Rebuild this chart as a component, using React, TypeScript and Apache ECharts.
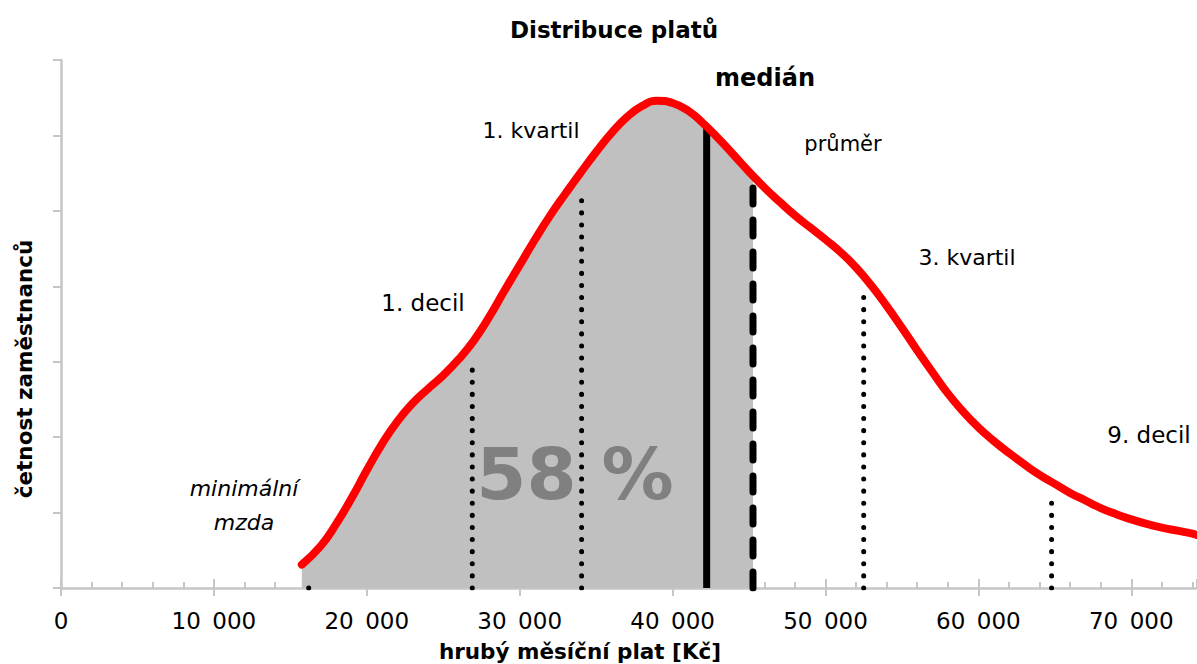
import React, { useEffect, useRef } from "react";
import * as echarts from "echarts";

// ---- data ----
const salary = [15750, 17000, 18000, 19000, 20000, 21000, 22000, 23000, 24000, 25000, 26000, 27000, 28000, 29000, 30000, 31000, 32000, 33000, 34000, 35000, 36000, 37000, 38000, 39000, 40000, 41000, 42000, 43000, 44000, 45000, 46000, 47000, 48000, 49000, 50000, 51000, 52000, 53000, 54000, 55000, 56000, 57000, 58000, 59000, 60000, 61000, 62000, 63000, 64000, 65000, 66000, 67000, 68000, 69000, 70000, 71000, 72000, 73000, 74000, 74300];
const frequency = [0.31, 0.56, 0.85, 1.19, 1.56, 1.91, 2.21, 2.45, 2.64, 2.82, 3.03, 3.28, 3.59, 3.94, 4.28, 4.62, 4.94, 5.23, 5.51, 5.78, 6.03, 6.24, 6.39, 6.46, 6.43, 6.33, 6.16, 5.96, 5.74, 5.52, 5.31, 5.12, 4.94, 4.78, 4.62, 4.45, 4.25, 4.01, 3.74, 3.45, 3.15, 2.86, 2.58, 2.34, 2.13, 1.95, 1.79, 1.64, 1.50, 1.38, 1.26, 1.16, 1.06, 0.98, 0.91, 0.85, 0.80, 0.76, 0.72, 0.70];

const markerNames = ["minimální mzda", "1. decil", "1. kvartil", "medián", "průměr", "3. kvartil", "9. decil"];
const markerValues = [16200, 26900, 34050, 42230, 45260, 52500, 64790];
const markerHeights = [0.16, 3.02, 5.25, 6.11, 5.32, 3.98, 1.28];
const meanCurveHeight = 5.47; // curve height at the mean, where the grey area ends

const xTicks = [0, 10000, 20000, 30000, 40000, 50000, 60000, 70000];
const shareText = "58 %";

const FONT = "'DejaVu Sans', 'Noto Sans', sans-serif";
const AXIS_GRAY = "#c6c6c6";

export default function App() {
  const ref = useRef<HTMLDivElement>(null);

  useEffect(() => {
    if (!ref.current) return;
    const chart = echarts.init(ref.current, undefined, { renderer: "svg" });

    const curve = salary.map((s, i) => [s, frequency[i]]);
    const meanIdx = markerNames.indexOf("průměr");
    const meanVal = markerValues[meanIdx];
    const fill = salary
      .map((s, i) => [s, frequency[i]])
      .filter((p) => p[0] < meanVal);
    fill.push([meanVal, meanCurveHeight]);

    const markerSeries = markerValues.map((v, i) => {
      const name = markerNames[i];
      let lineStyle: any = { color: "#000", width: 5, type: [0.1, 12], cap: "round" };
      if (name === "medián") lineStyle = { color: "#000", width: 7, type: "solid", cap: "butt" };
      if (name === "průměr") lineStyle = { color: "#000", width: 7, type: [16, 16], cap: "round" };
      return {
        type: "line",
        name,
        data: [[v, 0], [v, markerHeights[i]]],
        showSymbol: false,
        symbol: "none",
        silent: true,
        z: 3,
        lineStyle,
      };
    });

    const text = (t: string, x: number, y: number, font: string, fill = "#000", extra: any = {}) => ({
      type: "text",
      x,
      y,
      z: 10,
      ...extra,
      style: {
        text: t,
        font,
        fill,
        align: "center",
        verticalAlign: "middle",
        textAlign: "center",
        textVerticalAlign: "middle",
      },
    });

    chart.setOption({
      animation: false,
      grid: { left: 61, right: 0, top: 60, bottom: 76, containLabel: false },
      xAxis: [
        {
          type: "value",
          min: 0,
          max: 74300,
          interval: 2000,
          position: "bottom",
          axisLine: { show: true, onZero: false, lineStyle: { color: AXIS_GRAY, width: 2.5 } },
          axisTick: { show: true, inside: true, length: 6, lineStyle: { color: AXIS_GRAY, width: 2 } },
          axisLabel: { show: false },
          splitLine: { show: false },
        },
        {
          type: "value",
          min: 0,
          max: 74300,
          interval: 10000,
          position: "bottom",
          axisLine: { show: false, onZero: false },
          axisTick: { show: true, inside: true, length: 9, lineStyle: { color: AXIS_GRAY, width: 2 } },
          axisLabel: { show: false },
          splitLine: { show: false },
        },
        {
          type: "value",
          min: 0,
          max: 74300,
          interval: 10000,
          position: "bottom",
          axisLine: { show: false, onZero: false },
          axisTick: { show: true, inside: false, length: 8, lineStyle: { color: AXIS_GRAY, width: 2 } },
          axisLabel: {
            show: true,
            margin: 21,
            showMaxLabel: false,
            color: "#000",
            fontFamily: FONT,
            fontSize: 23,
            formatter: (v: number) =>
              xTicks.includes(v)
                ? v === 0
                  ? "0"
                  : `${Math.floor(v / 1000)}\u2002${String(v % 1000).padStart(3, "0")}`
                : "",
          },
          splitLine: { show: false },
        },
      ],
      yAxis: {
        type: "value",
        min: 0,
        max: 7,
        interval: 1,
        axisLine: { show: true, lineStyle: { color: AXIS_GRAY, width: 2.5 } },
        axisTick: { show: true, inside: false, length: 8, lineStyle: { color: AXIS_GRAY, width: 2 } },
        axisLabel: { show: false },
        splitLine: { show: false },
      },
      series: [
        {
          type: "line",
          name: "fill",
          data: fill,
          smooth: 0.5,
          showSymbol: false,
          symbol: "none",
          silent: true,
          z: 1,
          lineStyle: { width: 0 },
          areaStyle: { color: "#c0c0c0", opacity: 1 },
        },
        ...markerSeries,
        {
          type: "line",
          name: "distribuce",
          data: curve,
          smooth: 0.5,
          showSymbol: false,
          symbol: "none",
          silent: true,
          z: 4,
          lineStyle: { color: "#ff0000", width: 8, cap: "round", join: "round" },
        },
      ],
      graphic: [
        text("Distribuce platů", 614, 30, `bold 23px ${FONT}`),
        text("medián", 765, 78, `bold 24px ${FONT}`),
        text("1. kvartil", 531, 130, `22px ${FONT}`),
        text("průměr", 843, 144, `21px ${FONT}`),
        text("3. kvartil", 967, 257, `22px ${FONT}`),
        text("1. decil", 423, 303, `23px ${FONT}`),
        text("9. decil", 1149, 435, `23px ${FONT}`),
        text("minimální", 244, 488, `oblique 22px ${FONT}`),
        text("mzda", 244, 522, `oblique 22px ${FONT}`),
        { ...text(shareText, 575, 474, `bold 72px ${FONT}`, "#808080"), z: 2 },
        text("hrubý měsíční plat [Kč]", 580, 651, `bold 21.5px ${FONT}`),
        text("četnost zaměstnanců", 0, 0, `bold 21.5px ${FONT}`, "#000", {
          x: 24,
          y: 369,
          rotation: Math.PI / 2,
        }),
      ],
    });

    return () => chart.dispose();
  }, []);

  return (
    <div
      ref={ref}
      style={{ position: "absolute", left: 0, top: 0, width: 1197, height: 664, background: "#fff" }}
    />
  );
}
